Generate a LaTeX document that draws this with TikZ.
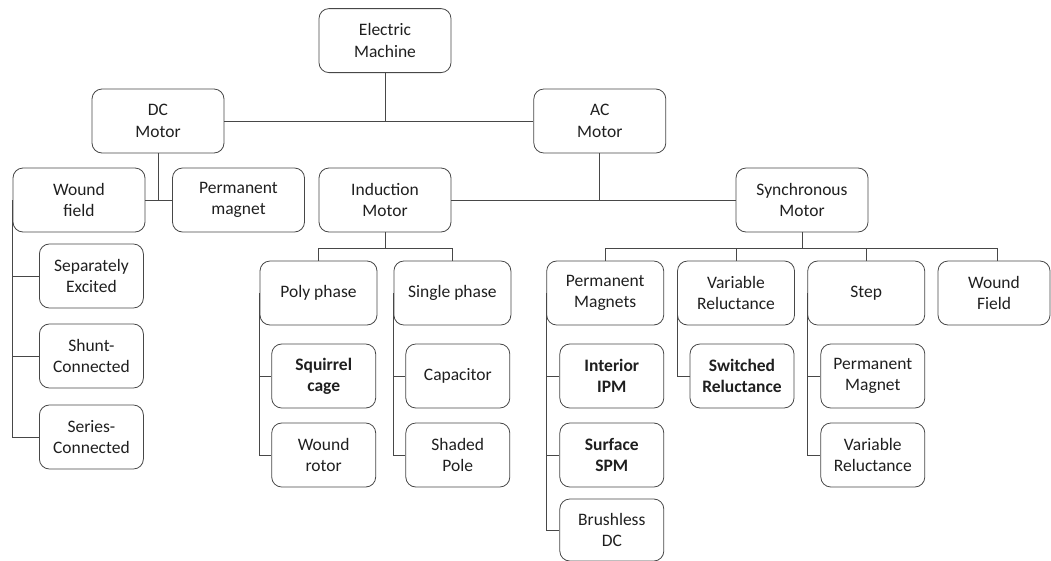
\documentclass[tikz,border=0pt]{standalone}
\usepackage{fontspec}
\setmainfont{Carlito}
\begin{document}
\begin{tikzpicture}[x=1pt,y=-1pt,
  box/.style={draw=black!72, line width=0.8pt, rounded corners=10pt, align=center,
    inner sep=0pt, minimum height=64pt, text=black!88,
    font=\fontsize{17.5}{21.3}\selectfont},
  big/.style={box, minimum width=132pt},
  mid/.style={box, minimum width=117pt},
  small/.style={box, minimum width=104pt},
  strong/.style={font=\fontsize{17.5}{21.3}\selectfont\bfseries},
  link/.style={draw=black!72, line width=0.8pt}]
\useasboundingbox (0,0) rectangle (1051,560);
% level 0-2
\node[big] (em) at (385,40.6) {Electric\\Machine};
\node[big] (dc) at (158,121) {DC\\Motor};
\node[big] (ac) at (599.8,121) {AC\\Motor};
\node[big] (wf) at (79,200) {Wound\\field};
\node[big] (pmag) at (238.5,200) {Permanent\\magnet};
\node[big] (im) at (385,200) {Induction\\Motor};
\node[big] (sm) at (802,200) {Synchronous\\Motor};
% level 3
\node[mid] (poly) at (318.5,293) {Poly phase};
\node[mid] (single) at (452.4,293) {Single phase};
\node[mid] (pms) at (605.2,293) {Permanent\\Magnets};
\node[mid] (vr) at (736,293) {Variable\\Reluctance};
\node[mid] (step) at (866.2,293) {Step};
\node[box, minimum width=112pt] (wfield) at (994,293) {Wound\\Field};
% DC children
\node[small] (sep) at (91.4,276) {Separately\\Excited};
\node[small] (shunt) at (91.4,356) {Shunt-\\Connected};
\node[small] (series) at (91.4,437) {Series-\\Connected};
% induction children
\node[small, strong] (squirrel) at (323.7,376) {Squirrel\\cage};
\node[small] (rotor) at (323.7,455) {Wound\\rotor};
\node[small] (cap) at (457.8,376) {Capacitor};
\node[small] (shaded) at (457.8,455) {Shaded\\Pole};
% synchronous children
\node[small, strong] (ipm) at (611.8,376) {Interior\\IPM};
\node[small, strong] (spm) at (611.8,455) {Surface\\SPM};
\node[small, minimum height=62pt] (bldc) at (611.8,530) {Brushless\\DC};
\node[small, strong] (sw) at (742,376) {Switched\\Reluctance};
\node[small] (spmag) at (872.8,376) {Permanent\\Magnet};
\node[small] (svr) at (872.8,455) {Variable\\Reluctance};
% connectors level 0-1
\coordinate (j0) at (em.south |- dc.east);
\draw[link] (em.south) -- (j0);
\draw[link] (dc.east) -- (ac.west);
% DC -> children
\coordinate (j1) at (dc.south |- wf.east);
\draw[link] (dc.south) -- (j1);
\draw[link] (wf.east) -- (pmag.west);
% AC -> children
\coordinate (j2) at (ac.south |- im.east);
\draw[link] (ac.south) -- (j2);
\draw[link] (im.east) -- (sm.west);
% induction -> poly/single
\coordinate (j3) at (385,248);
\coordinate (j3l) at (poly.north |- j3);
\coordinate (j3r) at (single.north |- j3);
\draw[link] (im.south) -- (j3);
\draw[link] (poly.north) -- (j3l) -- (j3r) -- (single.north);
% synchronous -> four
\coordinate (j4) at (sm.south |- j3);
\coordinate (j4a) at (pms.north |- j3);
\coordinate (j4b) at (vr.north |- j3);
\coordinate (j4c) at (step.north |- j3);
\coordinate (j4d) at (997,248);
\draw[link] (sm.south) -- (j4);
\draw[link] (pms.north) -- (j4a) -- (j4d) -- (j4d |- wfield.north);
\draw[link] (vr.north) -- (j4b);
\draw[link] (step.north) -- (j4c);
% side branches
\draw[link] (wf.west) |- (sep.west);
\draw[link] (wf.west) |- (shunt.west);
\draw[link] (wf.west) |- (series.west);
\draw[link] (poly.west) |- (squirrel.west);
\draw[link] (poly.west) |- (rotor.west);
\draw[link] (single.west) |- (cap.west);
\draw[link] (single.west) |- (shaded.west);
\draw[link] (pms.west) |- (ipm.west);
\draw[link] (pms.west) |- (spm.west);
\draw[link] (pms.west) |- (bldc.west);
\draw[link] (vr.west) |- (sw.west);
\draw[link] (step.west) |- (spmag.west);
\draw[link] (step.west) |- (svr.west);
\end{tikzpicture}
\end{document}
